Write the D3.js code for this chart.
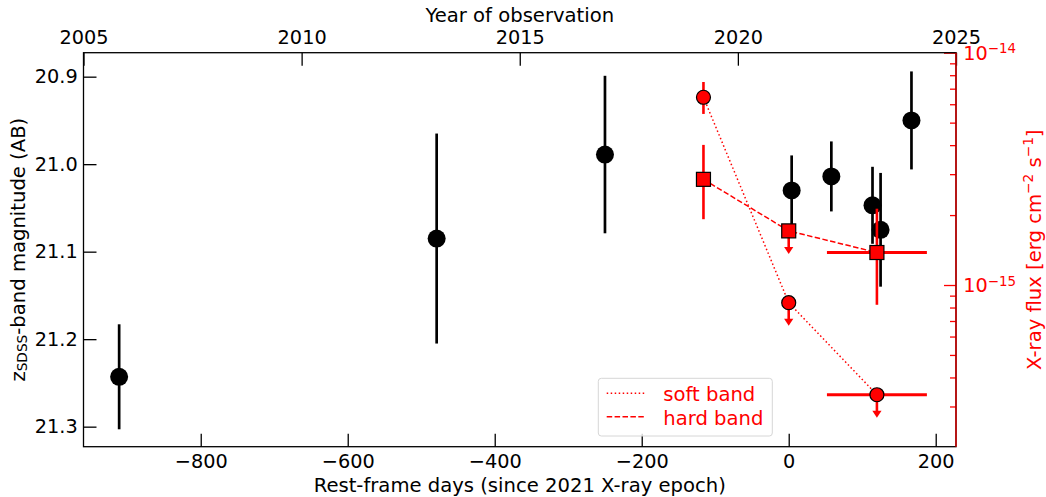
<!DOCTYPE html>
<html>
<head>
<meta charset="utf-8">
<script src="https://cdn.jsdelivr.net/npm/d3@7"></script>
<style>
  html, body { margin: 0; padding: 0; background: #fff; }
  svg { display: block; font-family: "DejaVu Sans", sans-serif; }
</style>
</head>
<body>
<svg id="chart" width="1046" height="497"></svg>
<script>
// ---------- data ----------
const optDays = [-911, -479, -250, 4, 58, 114, 125, 167];
const optMag  = [21.243, 21.085, 20.989, 21.030, 21.014, 21.047, 21.075, 20.950];
const optErr  = [0.060, 0.120, 0.090, 0.040, 0.040, 0.044, 0.065, 0.056];

const softDays  = [-116, 0, 120];
const softFlux  = [6.43e-15, 8.39e-16, 3.37e-16];
const softLo    = [5.45e-15, null, null];
const softHi    = [7.48e-15, null, null];
const softUpLim = [false, true, true];
const softXErr  = [0, 0, 68];

const hardDays  = [-116, 0, 120];
const hardFlux  = [2.85e-15, 1.71e-15, 1.38e-15];
const hardLo    = [1.92e-15, null, 8.22e-16];
const hardHi    = [4.01e-15, null, 2.13e-15];
const hardUpLim = [false, true, false];
const hardXErr  = [0, 0, 68];

const dayTicks  = [-800, -600, -400, -200, 0, 200];
const magTicks  = [20.9, 21.0, 21.1, 21.2, 21.3];
const yearTicks = [2005, 2010, 2015, 2020, 2025];
const fluxMajor = [{v: 1e-14, e: "−14"}, {v: 1e-15, e: "−15"}];
const fluxMinor = [9e-15, 8e-15, 7e-15, 6e-15, 5e-15, 4e-15, 3e-15, 2e-15,
                   9e-16, 8e-16, 7e-16, 6e-16, 5e-16, 4e-16, 3e-16];
const legendItems = [{label: "soft band", dash: "1.5,2.5"}, {label: "hard band", dash: "5.5,2.4"}];

// ---------- layout ----------
const L = 83.5, R = 956, T = 52.7, B = 446.7;
const FS = 19.3;   // tick labels
const LFS = 19.6;  // axis labels / legend
const svg = d3.select("#chart");

const x = d3.scaleLinear().domain([-959.5, 227.6]).range([L, R]);
const xYear = d3.scaleLinear().domain([2005, 2025]).range([L, R]);
const yMag = d3.scaleLinear().domain([20.8726, 21.3229]).range([T, B]);
const yFlux = d3.scaleLog().domain([Math.pow(10, -15.696), 1e-14]).range([B, T]);

function styleAxis(g, color) {
  g.select(".domain").remove();
  g.selectAll(".tick line").attr("stroke", color).attr("stroke-width", 1.3);
  g.selectAll(".tick text").attr("fill", color).style("font-size", FS + "px")
    .style("font-family", "DejaVu Sans");
}

// bottom axis
svg.append("g").attr("transform", `translate(0,${B})`)
  .call(d3.axisBottom(x).tickValues(dayTicks).tickSize(-13).tickPadding(7.5)
    .tickFormat(d => d < 0 ? "−" + Math.abs(d) : d))
  .call(g => styleAxis(g, "#000"));

// top axis
svg.append("g").attr("transform", `translate(0,${T})`)
  .call(d3.axisTop(xYear).tickValues(yearTicks).tickSize(-13).tickPadding(8.7)
    .tickFormat(d3.format("d")))
  .call(g => styleAxis(g, "#000"));

// left axis
svg.append("g").attr("transform", `translate(${L},0)`)
  .call(d3.axisLeft(yMag).tickValues(magTicks).tickSize(-13).tickPadding(5.8)
    .tickFormat(d3.format(".1f")))
  .call(g => styleAxis(g, "#000"));

// right axis (log, red)
svg.append("g").attr("transform", `translate(${R},0)`)
  .call(d3.axisRight(yFlux).tickValues(fluxMinor).tickSize(-6).tickFormat(""))
  .call(g => styleAxis(g, "red"));
svg.append("g").attr("transform", `translate(${R},0)`)
  .call(d3.axisRight(yFlux).tickValues(fluxMajor.map(d => d.v)).tickSize(-12).tickFormat(""))
  .call(g => styleAxis(g, "red"));
fluxMajor.forEach(d => {
  const t = svg.append("text")
    .attr("x", R + 7.3).attr("y", yFlux(d.v)).attr("dy", "0.36em")
    .attr("fill", "red").style("font-size", FS + "px");
  t.append("tspan").text("10");
  t.append("tspan").attr("dy", -6.2).style("font-size", "13.4px").text(d.e);
});

// frame
svg.append("rect").attr("x", L).attr("y", T).attr("width", R - L).attr("height", B - T)
  .attr("fill", "none").attr("stroke", "#000").attr("stroke-width", 1.3);
svg.append("line").attr("x1", R).attr("x2", R).attr("y1", T).attr("y2", B)
  .attr("stroke", "#d40000").attr("stroke-width", 1.5);

// labels
svg.append("text").attr("x", (L + R) / 2).attr("y", 491.7).attr("text-anchor", "middle")
  .style("font-size", LFS + "px").text("Rest-frame days (since 2021 X-ray epoch)");
svg.append("text").attr("x", (L + R) / 2).attr("y", 22).attr("text-anchor", "middle")
  .style("font-size", LFS + "px").text("Year of observation");

const yl = svg.append("text").attr("transform", `translate(24.5,${(T + B) / 2}) rotate(-90)`)
  .attr("text-anchor", "middle").style("font-size", LFS + "px");
yl.append("tspan").text("z");
yl.append("tspan").attr("dy", 2.8).style("font-size", "13.7px").text("SDSS");
yl.append("tspan").attr("dy", -2.8).text("-band magnitude (AB)");

const rl = svg.append("text").attr("transform", `translate(1041,${(T + B) / 2}) rotate(-90)`)
  .attr("text-anchor", "middle").attr("fill", "red").style("font-size", LFS + "px");
rl.append("tspan").text("X-ray flux [erg cm");
rl.append("tspan").attr("dy", -8).style("font-size", "13.7px").text("−2");
rl.append("tspan").attr("dy", 8).text(" s");
rl.append("tspan").attr("dy", -8).style("font-size", "13.7px").text("−1");
rl.append("tspan").attr("dy", 8).text("]");

// ---------- optical points ----------
const plot = svg.append("g");
const opt = optDays.map((d, i) => ({d, m: optMag[i], e: optErr[i]}));
plot.selectAll(".oerr").data(opt).join("line")
  .attr("x1", d => x(d.d)).attr("x2", d => x(d.d))
  .attr("y1", d => yMag(d.m - d.e)).attr("y2", d => yMag(d.m + d.e))
  .attr("stroke", "#000").attr("stroke-width", 2.7);
plot.selectAll(".opt").data(opt).join("circle")
  .attr("cx", d => x(d.d)).attr("cy", d => yMag(d.m)).attr("r", 9).attr("fill", "#000");

// ---------- X-ray ----------
function series(days, flux, lo, hi, up, xe) {
  return days.map((d, i) => ({d, f: flux[i], lo: lo[i], hi: hi[i], up: up[i], xe: xe[i]}));
}
const soft = series(softDays, softFlux, softLo, softHi, softUpLim, softXErr);
const hard = series(hardDays, hardFlux, hardLo, hardHi, hardUpLim, hardXErr);

const lineGen = d3.line().x(d => x(d.d)).y(d => yFlux(d.f));
plot.append("path").datum(soft).attr("d", lineGen).attr("fill", "none")
  .attr("stroke", "red").attr("stroke-width", 1.5).attr("stroke-dasharray", "1.5,2.5");
plot.append("path").datum(hard).attr("d", lineGen).attr("fill", "none")
  .attr("stroke", "red").attr("stroke-width", 1.5).attr("stroke-dasharray", "5.5,2.4");

function drawErrors(data) {
  data.forEach(p => {
    const cx = x(p.d), cy = yFlux(p.f);
    if (p.lo !== null) {
      plot.append("line").attr("x1", cx).attr("x2", cx)
        .attr("y1", yFlux(p.hi)).attr("y2", yFlux(p.lo))
        .attr("stroke", "red").attr("stroke-width", 2.6);
    }
    if (p.xe > 0) {
      plot.append("line").attr("x1", x(p.d - p.xe)).attr("x2", x(p.d + p.xe))
        .attr("y1", cy).attr("y2", cy).attr("stroke", "red").attr("stroke-width", 2.8);
    }
    if (p.up) {
      const tip = cy + 23;
      plot.append("line").attr("x1", cx).attr("x2", cx).attr("y1", cy).attr("y2", tip - 5)
        .attr("stroke", "red").attr("stroke-width", 2.6);
      plot.append("path")
        .attr("d", `M${cx - 4.6},${tip - 7}L${cx + 4.6},${tip - 7}L${cx},${tip}Z`)
        .attr("fill", "red");
    }
  });
}
drawErrors(soft);
drawErrors(hard);

plot.selectAll(".sm").data(soft).join("circle")
  .attr("cx", d => x(d.d)).attr("cy", d => yFlux(d.f)).attr("r", 7)
  .attr("fill", "red").attr("stroke", "#000").attr("stroke-width", 1.2);
plot.selectAll(".hm").data(hard).join("rect")
  .attr("x", d => x(d.d) - 7).attr("y", d => yFlux(d.f) - 7)
  .attr("width", 14).attr("height", 14)
  .attr("fill", "red").attr("stroke", "#000").attr("stroke-width", 1.2);

// ---------- legend ----------
const lg = svg.append("g");
lg.append("rect").attr("x", 598.3).attr("y", 378.3).attr("width", 174).attr("height", 57.7)
  .attr("rx", 3).attr("fill", "#fff").attr("fill-opacity", 0.8)
  .attr("stroke", "#d6d6d6").attr("stroke-width", 1);
legendItems.forEach((it, i) => {
  const ly = 393.3 + i * 23.4;
  lg.append("line").attr("x1", 606.7).attr("x2", 645).attr("y1", ly).attr("y2", ly)
    .attr("stroke", "red").attr("stroke-width", 1.5).attr("stroke-dasharray", it.dash);
  lg.append("text").attr("x", 663.3).attr("y", ly + 8).attr("fill", "red")
    .style("font-size", LFS + "px").text(it.label);
});
</script>
</body>
</html>
